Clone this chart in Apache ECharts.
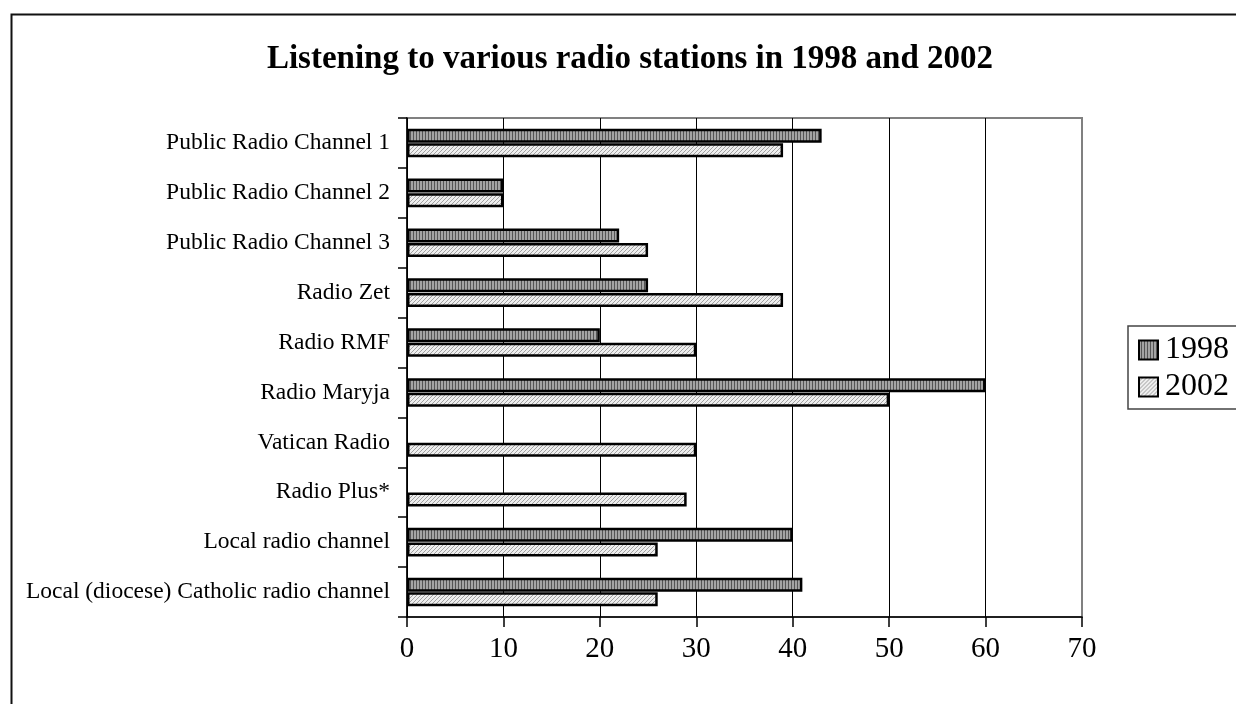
<!DOCTYPE html>
<html>
<head>
<meta charset="utf-8">
<script src="https://cdn.jsdelivr.net/npm/echarts@6/dist/echarts.min.js"></script>
<style>
html,body{margin:0;padding:0;background:#fff;}
#chart{width:1236px;height:704px;}
</style>
</head>
<body>
<div id="chart"></div>
<script>
const titleText = 'Listening to various radio stations in 1998 and 2002';
const categories = [
  'Public Radio Channel 1',
  'Public Radio Channel 2',
  'Public Radio Channel 3',
  'Radio Zet',
  'Radio RMF',
  'Radio Maryja',
  'Vatican Radio',
  'Radio Plus*',
  'Local radio channel',
  'Local (diocese) Catholic radio channel'
];
const seriesNames = ['1998', '2002'];
const values1998 = [43, 10, 22, 25, 20, 60, null, null, 40, 41];
const values2002 = [39, 10, 25, 39, 30, 50, 30, 29, 26, 26];
const xTicks = { min: 0, max: 70, interval: 10 };

function makeStripe() {
  const c = document.createElement('canvas');
  c.width = 3; c.height = 4;
  const g = c.getContext('2d');
  g.fillStyle = '#a4a4a4'; g.fillRect(0, 0, 3, 4);
  g.fillStyle = '#555555'; g.fillRect(2, 0, 1, 4);
  return c;
}
function makeHatch() {
  const c = document.createElement('canvas');
  c.width = 4; c.height = 4;
  const g = c.getContext('2d');
  g.fillStyle = '#eeeeee'; g.fillRect(0, 0, 4, 4);
  g.fillStyle = '#a0a0a0';
  g.fillRect(3, 0, 1, 1); g.fillRect(2, 1, 1, 1); g.fillRect(1, 2, 1, 1); g.fillRect(0, 3, 1, 1);
  return c;
}
const pattern1998 = { image: makeStripe(), repeat: 'repeat' };
const pattern2002 = { image: makeHatch(), repeat: 'repeat' };

const serif = '"Liberation Serif", "Times New Roman", serif';
const chart = echarts.init(document.getElementById('chart'), null, { renderer: 'canvas' });
chart.setOption({
  backgroundColor: '#ffffff',
  animation: false,
  title: {
    text: titleText,
    left: 625, top: 38, textAlign: 'center',
    textStyle: { fontFamily: serif, fontSize: 33, fontWeight: 'bold', color: '#000' }
  },
  graphic: [{
    type: 'rect', left: 9, top: 12, z: -1, silent: true,
    shape: { width: 1400, height: 800 },
    style: { fill: 'none', stroke: '#111', lineWidth: 2 }
  }],
  legend: {
    orient: 'vertical',
    left: 1128, top: 326,
    padding: [8, 40, 6, 10],
    itemGap: 5,
    itemWidth: 19, itemHeight: 19,
    icon: 'rect',
    borderColor: '#444', borderWidth: 1.5,
    textStyle: { fontFamily: serif, fontSize: 32, color: '#000', padding: [0, 0, 0, 2] },
    data: seriesNames
  },
  grid: {
    left: 407, right: 1236 - 1082, top: 118, bottom: 704 - 617,
    show: true, borderColor: '#808080', borderWidth: 2, backgroundColor: 'transparent'
  },
  xAxis: {
    type: 'value', min: xTicks.min, max: xTicks.max, interval: xTicks.interval,
    axisLine: { show: true, lineStyle: { color: '#000', width: 1.5 } },
    axisTick: { show: true, length: 10, lineStyle: { color: '#000', width: 1.5 } },
    splitLine: { show: true, lineStyle: { color: ['#000', '#000', '#000', '#000', '#000', '#000', '#000', '#808080'], width: 1 } },
    axisLabel: { fontFamily: serif, fontSize: 29, color: '#000', margin: 18 }
  },
  yAxis: {
    type: 'category', inverse: true, data: categories,
    axisLine: { show: true, lineStyle: { color: '#000', width: 1.5 } },
    axisTick: { show: true, length: 9, lineStyle: { color: '#000', width: 1.5 } },
    axisLabel: { fontFamily: serif, fontSize: 23.5, color: '#000', margin: 17 }
  },
  series: [
    {
      name: seriesNames[0], type: 'bar', data: values1998,
      barWidth: 14, barGap: '4%',
      itemStyle: { color: pattern1998, borderColor: '#000', borderWidth: 2.5 }
    },
    {
      name: seriesNames[1], type: 'bar', data: values2002,
      barWidth: 14, barGap: '4%',
      itemStyle: { color: pattern2002, borderColor: '#000', borderWidth: 2.5 }
    }
  ]
});
</script>
</body>
</html>
